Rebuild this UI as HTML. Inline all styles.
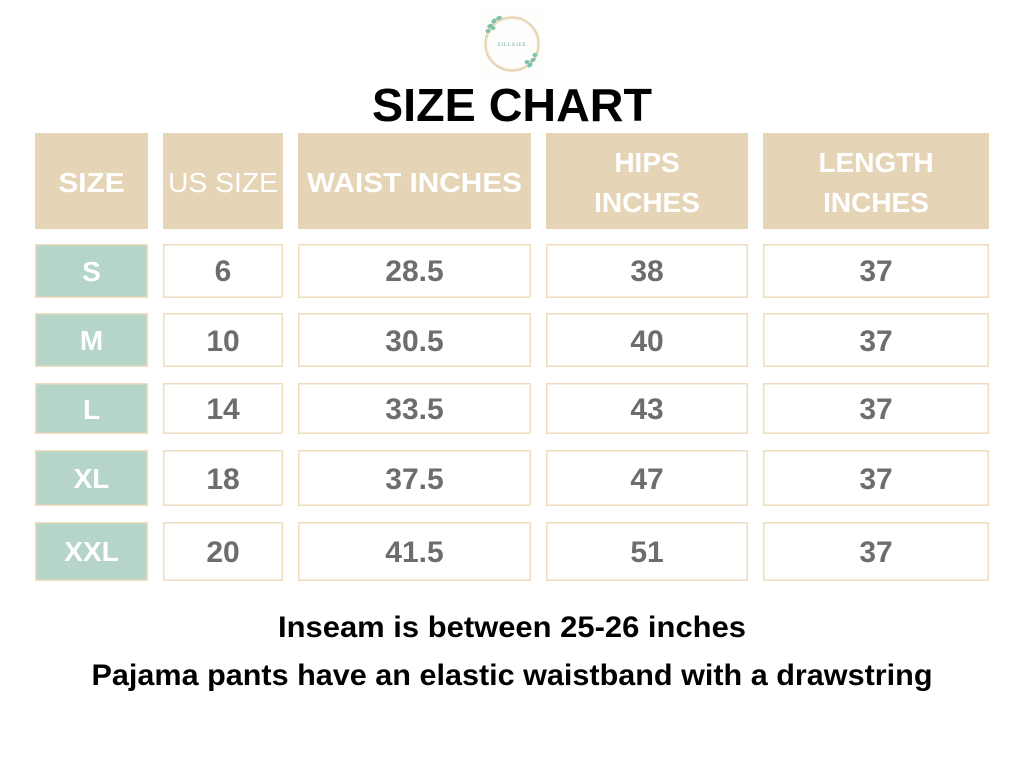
<!DOCTYPE html>
<html><head><meta charset="utf-8"><style>
html,body{margin:0;padding:0;background:#fff;}
svg{display:block;}
</style></head><body>
<svg width="1024" height="768" viewBox="0 0 1024 768" xmlns="http://www.w3.org/2000/svg" font-family="Liberation Sans, sans-serif">
<rect width="1024" height="768" fill="#fff"/>
<!-- logo -->
<rect x="478" y="6" width="68" height="72" fill="#fdfdfc"/>
<circle cx="512" cy="44" r="27" fill="none" stroke="#dcc08f" stroke-width="1"/>
<circle cx="512" cy="44" r="25.5" fill="none" stroke="#e6cfa5" stroke-width="0.8"/>
<g fill="#7fc1a8">
<ellipse cx="490" cy="26" rx="3" ry="2" transform="rotate(-30 490 26)"/>
<ellipse cx="494" cy="21" rx="3" ry="2" transform="rotate(-40 494 21)"/>
<ellipse cx="499" cy="18" rx="3" ry="2" transform="rotate(-20 499 18)"/>
<ellipse cx="488" cy="31" rx="2.5" ry="2"/>
<ellipse cx="493" cy="28" rx="2.5" ry="2"/>
<ellipse cx="533" cy="60" rx="3" ry="2" transform="rotate(-30 533 60)"/>
<ellipse cx="530" cy="65" rx="3" ry="2" transform="rotate(-40 530 65)"/>
<ellipse cx="535" cy="55" rx="2.5" ry="2"/>
<ellipse cx="527" cy="62" rx="2.5" ry="2"/>
</g>
<text x="512" y="46" font-family="Liberation Serif, serif" font-size="5" fill="#6aa593" text-anchor="middle" letter-spacing="0.8">ZILLAJEE</text>
<!-- title -->
<text x="512" y="121" font-size="46" font-weight="bold" fill="#000" text-anchor="middle" textLength="280" lengthAdjust="spacingAndGlyphs">SIZE CHART</text>
<!-- header -->
<g fill="#e5d4b5">
<rect x="35" y="133" width="113" height="96"/>
<rect x="163" y="133" width="120" height="96"/>
<rect x="298" y="133" width="233" height="96"/>
<rect x="546" y="133" width="202" height="96"/>
<rect x="763" y="133" width="226" height="96"/>
</g>
<g fill="#fff" font-size="28" text-anchor="middle">
<text x="91.5" y="192" font-weight="bold" textLength="66" lengthAdjust="spacingAndGlyphs">SIZE</text>
<text x="223" y="192" textLength="110" lengthAdjust="spacingAndGlyphs">US SIZE</text>
<text x="414.5" y="192" font-weight="bold" textLength="215" lengthAdjust="spacingAndGlyphs">WAIST INCHES</text>
<text x="647" y="172" font-weight="bold">HIPS</text>
<text x="647" y="212" font-weight="bold">INCHES</text>
<text x="876" y="172" font-weight="bold">LENGTH</text>
<text x="876" y="212" font-weight="bold">INCHES</text>
</g>
<!-- rows -->
<g stroke="#eedcbc" stroke-width="1.5">
<g fill="#b5d5c9">
<rect x="35.75" y="244.75" width="111.5" height="52.5"/>
<rect x="35.75" y="313.75" width="111.5" height="52.5"/>
<rect x="35.75" y="383.75" width="111.5" height="49.5"/>
<rect x="35.75" y="450.75" width="111.5" height="54.5"/>
<rect x="35.75" y="522.75" width="111.5" height="57.5"/>
</g>
<g fill="#fff">
<rect x="163.75" y="244.75" width="118.5" height="52.5"/>
<rect x="298.75" y="244.75" width="231.5" height="52.5"/>
<rect x="546.75" y="244.75" width="200.5" height="52.5"/>
<rect x="763.75" y="244.75" width="224.5" height="52.5"/>
<rect x="163.75" y="313.75" width="118.5" height="52.5"/>
<rect x="298.75" y="313.75" width="231.5" height="52.5"/>
<rect x="546.75" y="313.75" width="200.5" height="52.5"/>
<rect x="763.75" y="313.75" width="224.5" height="52.5"/>
<rect x="163.75" y="383.75" width="118.5" height="49.5"/>
<rect x="298.75" y="383.75" width="231.5" height="49.5"/>
<rect x="546.75" y="383.75" width="200.5" height="49.5"/>
<rect x="763.75" y="383.75" width="224.5" height="49.5"/>
<rect x="163.75" y="450.75" width="118.5" height="54.5"/>
<rect x="298.75" y="450.75" width="231.5" height="54.5"/>
<rect x="546.75" y="450.75" width="200.5" height="54.5"/>
<rect x="763.75" y="450.75" width="224.5" height="54.5"/>
<rect x="163.75" y="522.75" width="118.5" height="57.5"/>
<rect x="298.75" y="522.75" width="231.5" height="57.5"/>
<rect x="546.75" y="522.75" width="200.5" height="57.5"/>
<rect x="763.75" y="522.75" width="224.5" height="57.5"/>
</g>
</g>
<g fill="#fff" font-size="28" font-weight="bold" text-anchor="middle">
<text x="91.5" y="281">S</text>
<text x="91.5" y="350">M</text>
<text x="91.5" y="419">L</text>
<text x="91.5" y="488">XL</text>
<text x="91.5" y="561">XXL</text>
</g>
<g fill="#6d6d6d" font-size="30" font-weight="bold" text-anchor="middle">
<text x="223" y="281">6</text>
<text x="414.5" y="281">28.5</text>
<text x="647" y="281">38</text>
<text x="876" y="281">37</text>
<text x="223" y="351">10</text>
<text x="414.5" y="351">30.5</text>
<text x="647" y="351">40</text>
<text x="876" y="351">37</text>
<text x="223" y="419">14</text>
<text x="414.5" y="419">33.5</text>
<text x="647" y="419">43</text>
<text x="876" y="419">37</text>
<text x="223" y="489">18</text>
<text x="414.5" y="489">37.5</text>
<text x="647" y="489">47</text>
<text x="876" y="489">37</text>
<text x="223" y="562">20</text>
<text x="414.5" y="562">41.5</text>
<text x="647" y="562">51</text>
<text x="876" y="562">37</text>
</g>
<!-- notes -->
<g fill="#000" font-size="30" font-weight="bold" text-anchor="middle">
<text x="512" y="637" textLength="468" lengthAdjust="spacingAndGlyphs">Inseam is between 25-26 inches</text>
<text x="512" y="685" textLength="841" lengthAdjust="spacingAndGlyphs">Pajama pants have an elastic waistband with a drawstring</text>
</g>
</svg>
</body></html>
